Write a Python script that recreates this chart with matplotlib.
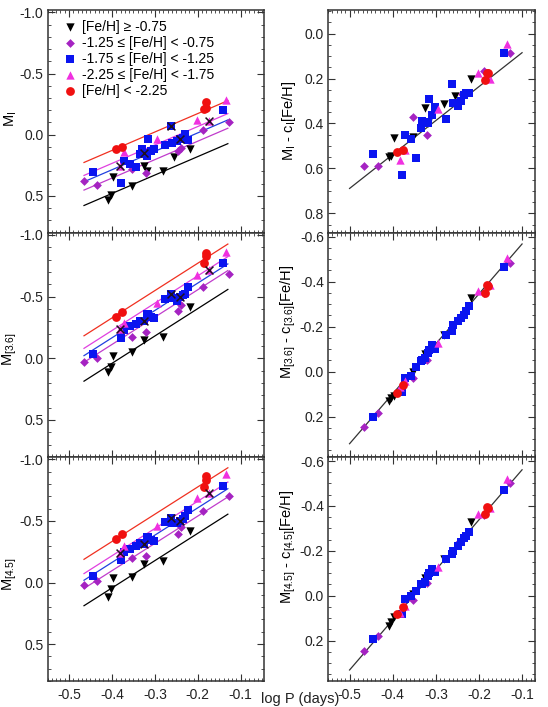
import numpy as np
import matplotlib
matplotlib.use("Agg")
import matplotlib.pyplot as plt
from matplotlib.ticker import MultipleLocator, FormatStrFormatter

nan = np.nan

# group 1: [Fe/H] >= -0.75
logp_rich = [-0.409, -0.403, -0.398, -0.353, -0.325, -0.318, -0.280, -0.256, -0.219]
mi_rich = [0.534, 0.493, 0.347, 0.419, 0.259, 0.299, 0.299, 0.182, 0.115]
m36_rich = [0.113, 0.073, -0.016, -0.048, -0.148, nan, -0.175, nan, -0.417]
m45_rich = [0.121, 0.054, -0.035, -0.048, -0.148, nan, -0.175, nan, -0.422]
wi_rich = [0.550, 0.543, 0.463, 0.460, 0.331, 0.398, 0.312, 0.277, 0.200]
w36_rich = [0.130, 0.119, 0.108, 0.000, -0.077, nan, -0.163, nan, -0.327]
w45_rich = [0.134, 0.115, 0.097, -0.007, -0.079, nan, -0.164, nan, -0.330]

# group 2: -1.25 <= [Fe/H] < -0.75
logp_mid = [-0.466, -0.435, -0.354, -0.320, -0.247, -0.239, -0.188, -0.127]
mi_mid = [0.382, 0.408, 0.283, 0.312, 0.134, 0.107, -0.040, -0.106]
m36_mid = [0.027, 0.000, -0.175, -0.210, -0.385, -0.433, -0.578, -0.686]
m45_mid = [0.021, -0.014, -0.197, -0.215, -0.398, -0.449, -0.584, -0.707]
wi_mid = [0.591, 0.591, 0.371, 0.453, 0.300, 0.270, 0.168, 0.085]
w36_mid = [0.248, 0.183, 0.027, -0.052, -0.238, -0.250, -0.349, -0.483]
w45_mid = [0.246, 0.179, 0.020, -0.055, -0.240, -0.250, -0.360, -0.500]

# group 3: -1.75 <= [Fe/H] < -1.25
logp_low = [-0.445, -0.378, -0.372, -0.357, -0.345, -0.335, -0.331, -0.326, -0.319, -0.316,
            -0.310, -0.302, -0.276, -0.262, -0.259, -0.248, -0.242, -0.235, -0.229, -0.223, -0.141]
mi_low = [0.307, 0.392, 0.214, 0.240, 0.262, 0.160, 0.120, 0.147, 0.174, 0.035,
          0.134, 0.116, 0.088, -0.072, 0.067, 0.053, 0.035, 0.027, -0.005, 0.040, -0.205]
m36_low = [-0.035, -0.164, -0.229, -0.260, -0.282, -0.304, -0.300, -0.304, -0.358, -0.360,
           -0.336, -0.326, -0.479, -0.519, -0.487, -0.465, -0.497, -0.510, -0.524, -0.578, -0.774]
m45_low = [-0.054, -0.180, -0.245, -0.270, -0.298, -0.320, -0.310, -0.315, -0.374, -0.370,
           -0.347, -0.340, -0.490, -0.527, -0.487, -0.480, -0.500, -0.514, -0.538, -0.586, -0.788]
wi_low = [0.536, 0.631, 0.450, 0.469, 0.554, 0.420, 0.389, 0.394, 0.400, 0.293,
          0.364, 0.327, 0.381, 0.226, 0.310, 0.320, 0.300, 0.275, 0.265, 0.265, 0.085]
w36_low = [0.203, 0.089, 0.027, 0.018, -0.018, -0.045, -0.050, -0.060, -0.082, -0.097,
           -0.119, -0.100, -0.163, -0.181, -0.208, -0.223, -0.240, -0.253, -0.270, -0.290, -0.463]
w45_low = [0.193, 0.082, 0.015, 0.003, -0.019, -0.052, -0.050, -0.060, -0.089, -0.100,
           -0.119, -0.105, -0.164, -0.185, -0.200, -0.223, -0.240, -0.258, -0.265, -0.286, -0.469]

# group 4: -2.25 <= [Fe/H] < -1.75
logp_poor = [-0.382, -0.371, -0.295, -0.202, -0.175, -0.135]
mi_poor = [0.254, 0.139, 0.035, -0.120, -0.115, -0.280]
m36_poor = [-0.237, -0.285, -0.447, -0.672, -0.712, -0.860]
m45_poor = [-0.242, -0.296, -0.457, -0.685, -0.726, -0.879]
wi_poor = [0.561, 0.520, 0.334, 0.175, 0.200, 0.048]
w36_poor = [0.070, 0.040, -0.126, -0.356, -0.386, -0.505]
w45_poor = [0.075, 0.045, -0.126, -0.365, -0.392, -0.521]

# group 5: [Fe/H] < -2.25
logp_vpoor = [-0.390, -0.376, -0.185, -0.182, -0.180]
mi_vpoor = [0.120, 0.101, -0.213, -0.266, -0.221]
m36_vpoor = [-0.339, -0.379, -0.769, -0.855, -0.828]
m45_vpoor = [-0.355, -0.398, -0.780, -0.866, -0.834]
wi_vpoor = [0.527, 0.520, 0.205, 0.174, 0.174]
w36_vpoor = [0.096, 0.059, -0.349, -0.385, -0.380]
w45_vpoor = [0.082, 0.052, -0.362, -0.394, -0.390]

# stars flagged with a cross (left panels only)
flag_low = [7, 13, 16]
flag_poor = [0, 4]

# PL fits: magnitude at log P = -0.3 and slope, per band
fit_slope_left = [-1.51, -2.22, -2.22]
fit_zp_rich = [0.330, -0.181, -0.178]
fit_zp_mid = [0.204, -0.334, -0.318]
fit_zp_low = [0.136, -0.388, -0.385]
fit_zp_poor = [0.084, -0.447, -0.439]
fit_zp_vpoor = [-0.022, -0.549, -0.555]
fit_slope_right = [-1.51, -2.22, -2.23]
fit_zp_right = [0.387, -0.123, -0.115]

labels = ['[Fe/H] \u2265 -0.75', '-1.25 \u2264 [Fe/H] < -0.75', '-1.75 \u2264 [Fe/H] < -1.25',
          '-2.25 \u2264 [Fe/H] < -1.75', '[Fe/H] < -2.25']
left_ylabels = [r'M$_\mathregular{I}$', r'M$_\mathregular{[3.6]}$', r'M$_\mathregular{[4.5]}$']
right_ylabels = [r'M$_\mathregular{I}$ - c$_\mathregular{I}$[Fe/H]',
                 r'M$_\mathregular{[3.6]}$ - c$_\mathregular{[3.6]}$[Fe/H]',
                 r'M$_\mathregular{[4.5]}$ - c$_\mathregular{[4.5]}$[Fe/H]']

plt.rcParams['font.family'] = ['Liberation Sans', 'DejaVu Sans']
plt.rcParams['mathtext.fontset'] = 'custom'
plt.rcParams['mathtext.rm'] = 'Liberation Sans'

groups = [
    dict(logp=logp_rich, mags=[mi_rich, m36_rich, m45_rich, wi_rich, w36_rich, w45_rich],
         zp=fit_zp_rich, color='black', line='black', marker='v', s=36, flags=[]),
    dict(logp=logp_mid, mags=[mi_mid, m36_mid, m45_mid, wi_mid, w36_mid, w45_mid],
         zp=fit_zp_mid, color='#A523C2', line='#C03CCC', marker='D', s=20, flags=[]),
    dict(logp=logp_low, mags=[mi_low, m36_low, m45_low, wi_low, w36_low, w45_low],
         zp=fit_zp_low, color='#0A14F0', line='#2040E0', marker='s', s=40, flags=flag_low),
    dict(logp=logp_poor, mags=[mi_poor, m36_poor, m45_poor, wi_poor, w36_poor, w45_poor],
         zp=fit_zp_poor, color='#F030E0', line='#E040E0', marker='^', s=36, flags=flag_poor),
    dict(logp=logp_vpoor, mags=[mi_vpoor, m36_vpoor, m45_vpoor, wi_vpoor, w36_vpoor, w45_vpoor],
         zp=fit_zp_vpoor, color='#F01010', line='#F03020', marker='o', s=40, flags=[]),
]

W, H = 548, 707
fig = plt.figure(figsize=(W / 100, H / 100), dpi=100)

rows_px = [(10, 232.5), (232.5, 457), (457, 681)]
cols_px = [(47.5, 263.5), (328, 535)]
left_label_y = [0.51, 0.48, 0.478]
right_label_y = [0.5, 0.6, 0.598]


def make_ax(col, row):
    x0, x1 = cols_px[col]
    y0, y1 = rows_px[row]
    return fig.add_axes([x0 / W, 1 - y1 / H, (x1 - x0) / W, (y1 - y0) / H])


def style_ax(ax, ymajor, yminor, show_x):
    ax.xaxis.set_major_locator(MultipleLocator(0.1))
    ax.xaxis.set_minor_locator(MultipleLocator(0.01))
    ax.yaxis.set_major_locator(MultipleLocator(ymajor))
    ax.yaxis.set_minor_locator(MultipleLocator(yminor))
    ax.xaxis.set_major_formatter(FormatStrFormatter('%.1f'))
    ax.yaxis.set_major_formatter(FormatStrFormatter('%.1f'))
    ax.tick_params(which='both', direction='in', top=True, right=True,
                   colors='#333333', labelsize=10, labelcolor='#222222')
    ax.tick_params(which='major', length=5, width=0.8)
    ax.tick_params(axis='y', which='major', pad=3)
    ax.tick_params(axis='x', which='major', pad=5)
    ax.tick_params(which='minor', length=2.5, width=0.6)
    if not show_x:
        ax.tick_params(axis='x', labelbottom=False)
    for sp in ax.spines.values():
        sp.set_linewidth(1.1)
        sp.set_color('#333333')


for row in range(3):
    # left column: magnitude vs log P with per-group fits
    ax = make_ax(0, row)
    xs = np.array([-0.465, -0.13])
    for g in groups:
        ax.plot(xs, g['zp'][row] + fit_slope_left[row] * (xs + 0.3), color=g['line'], lw=0.9, zorder=2)
    for g in groups:
        ax.scatter(g['logp'], g['mags'][row], c=g['color'], marker=g['marker'], s=g['s'],
                   linewidths=0, zorder=3)
    for g in groups:
        if g['flags']:
            fx = [g['logp'][i] for i in g['flags']]
            fy = [g['mags'][row][i] for i in g['flags']]
            ax.scatter(fx, fy, c='#201020', marker='x', s=32, linewidths=1.1, zorder=4)
    ax.set_xlim(-0.55, -0.047)
    ax.set_ylim(0.8, -1.02)
    style_ax(ax, 0.5, 0.1, row == 2)
    ax.set_ylabel(left_ylabels[row], fontsize=10.5)
    ax.yaxis.set_label_coords(-0.13, left_label_y[row])

    if row == 0:
        handles = []
        for g, lab in zip(groups, labels):
            h = ax.scatter([], [], c=g['color'], marker=g['marker'], s=g['s'], linewidths=0, label=lab)
            handles.append(h)
        ax.legend(handles=handles, loc='upper left', frameon=False, fontsize=10,
                  handlelength=1.0, handletextpad=0.36, labelspacing=0.15,
                  borderpad=0.4, borderaxespad=0.0, bbox_to_anchor=(0.046, 0.982))

    # right column: metallicity-corrected magnitudes with a single fit
    ax = make_ax(1, row)
    xs = np.array([-0.50, -0.10])
    ax.plot(xs, fit_zp_right[row] + fit_slope_right[row] * (xs + 0.3), color='#333333', lw=0.9, zorder=2)
    for g in groups:
        ax.scatter(g['logp'], g['mags'][row + 3], c=g['color'], marker=g['marker'], s=g['s'],
                   linewidths=0, zorder=3)
    ax.set_xlim(-0.55, -0.07)
    if row == 0:
        ax.set_ylim(0.885, -0.105)
    else:
        ax.set_ylim(0.38, -0.618)
    style_ax(ax, 0.2, 0.05, row == 2)
    ax.set_ylabel(right_ylabels[row], fontsize=10.5)
    ax.yaxis.set_label_coords(-0.145, right_label_y[row])

# shared x label sits in the gap between the two columns, at the very bottom
fig.text(300 / W, 1.5 / H, 'log P (days)', ha='center', va='bottom', fontsize=10.5, color='#222222')

fig.savefig('out.png', dpi=100)
